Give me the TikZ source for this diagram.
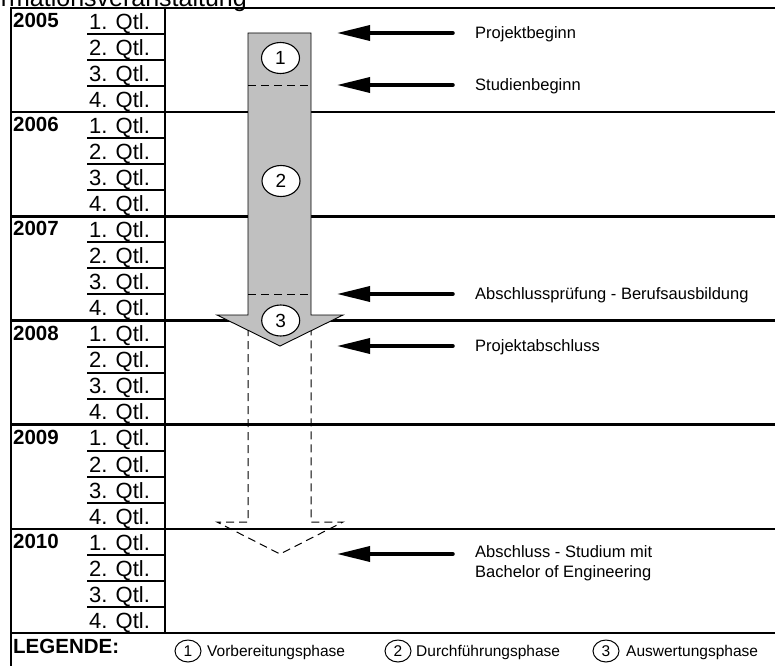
\documentclass[tikz,border=0pt]{standalone}
\usepackage{fontspec}
\setmainfont{Liberation Sans}
\usetikzlibrary{arrows.meta,shapes.geometric}
\definecolor{arrowgray}{RGB}{192,192,192}
\begin{document}
\begin{tikzpicture}[x=1pt,y=-1pt,
  frame/.style={line width=2.6pt},
  thinrule/.style={line width=2pt},
  yeartxt/.style={anchor=base west, inner sep=0pt, font=\fontsize{20.5}{24}\selectfont\bfseries},
  qtxt/.style={anchor=base west, inner sep=0pt, font=\fontsize{22}{26}\selectfont},
  lbl/.style={anchor=base west, inner sep=0pt, font=\fontsize{16.5}{20}\selectfont, align=left},
  ptr/.style={line width=3.5pt, line cap=round, -{Triangle[length=33pt,width=15pt]}},
  phase/.style={ellipse, draw, fill=white, line width=1.1pt, minimum width=38pt, minimum height=31pt, inner sep=0pt, font=\fontsize{19}{21}\selectfont},
  legc/.style={ellipse, draw, line width=1pt, minimum width=26pt, minimum height=22pt, inner sep=0pt, font=\fontsize{15.5}{17}\selectfont},
  legt/.style={anchor=base west, inner sep=0pt, font=\fontsize{15.5}{18}\selectfont},
  dashln/.style={line width=1pt, dash pattern=on 8pt off 5pt},
]
\useasboundingbox (0,0) rectangle (775,666);
\clip (0,0) rectangle (775,666);
\node[anchor=base east, inner sep=0pt, font=\fontsize{25}{30}\selectfont] (title) at (247,6.5) {Informationsveranstaltung};
% grid
\draw[frame] (775,8) -- (11,8) -- (11,666);
\foreach \i in {1,...,6} \draw[frame] (11,{8+\i*104.17}) -- (775,{8+\i*104.17});
\draw[thinrule] (165,8) -- (165,633);
\foreach \i/\yr in {0/2005,1/2006,2/2007,3/2008,4/2009,5/2010} {
  \node[yeartxt] (y\i) at (13,{8+\i*104.17+19.5}) {\yr};
  \foreach \k in {1,2,3} \draw[thinrule] (87,{8+\i*104.17+\k*26.04}) -- (165,{8+\i*104.17+\k*26.04});
  \foreach \k in {1,2,3,4} \node[qtxt] (q\i\k) at (89,{8+\i*104.17+(\k-1)*26.04+21.3}) {\k. Qtl.};
}
% hollow dashed arrow
\draw[dashln, line join=miter] (248,315) -- (248,522) -- (217,522) -- (280,554) -- (343,522) -- (311,522) -- (311,315);
% gray arrow
\draw[fill=arrowgray, line width=0.9pt, line join=miter] (248,33) -- (311,33) -- (311,315) -- (343,315) -- (280,346) -- (217,315) -- (248,315) -- cycle;
\draw[dashln] (248,86) -- (311,86);
\draw[dashln] (248,294) -- (311,294);
\node[phase] (c1) at (280.5,58) {1};
\node[phase] (c2) at (281,181) {2};
\node[phase] (c3) at (280.7,320.5) {3};
% event arrows and labels
\foreach \n/\y/\t in {1/33/Projektbeginn, 2/85/Studienbeginn, 3/294/Abschlussprüfung - Berufsausbildung, 4/346/Projektabschluss} {
  \coordinate (s\n) at (453,\y);
  \coordinate (e\n) at (337,\y);
  \draw[ptr] (s\n) -- (e\n);
  \node[lbl] (l\n) at (475,{\y+5.5}) {\t};
}
\coordinate (s5) at (453,554);
\coordinate (e5) at (337,554);
\draw[ptr] (s5) -- (e5);
\node[lbl, anchor=north west] (l5) at (475,545) {Abschluss - Studium mit\\Bachelor of Engineering};
% legend
\node[anchor=base west, inner sep=0pt, font=\fontsize{20.5}{24}\selectfont\bfseries] (leg) at (13,653) {LEGENDE:};
\node[legc] (k1) at (188,651) {1};
\node[legt] (t1) at (207,656) {Vorbereitungsphase};
\node[legc] (k2) at (398,651) {2};
\node[legt] (t2) at (416,656) {Durchführungsphase};
\node[legc] (k3) at (606,651) {3};
\node[legt] (t3) at (626,656) {Auswertungsphase};
\end{tikzpicture}
\end{document}
